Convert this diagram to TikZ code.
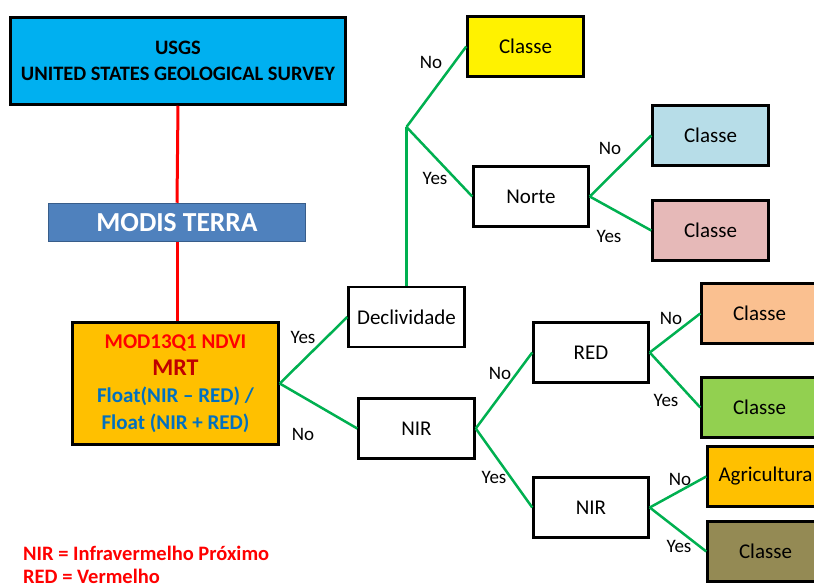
\documentclass[tikz,border=0pt]{standalone}
\usepackage{fontspec}
\setmainfont{Carlito}
\definecolor{usgsblue}{HTML}{00B0F0}
\definecolor{modisfill}{HTML}{4F81BD}
\definecolor{modisdraw}{HTML}{385D8A}
\definecolor{gold}{HTML}{FFC000}
\definecolor{treegreen}{HTML}{00B050}
\definecolor{linkred}{HTML}{FF0000}
\definecolor{darkred}{HTML}{C00000}
\definecolor{textblue}{HTML}{0070C0}
\definecolor{lightblue}{HTML}{B7DDE8}
\definecolor{pink}{HTML}{E6B9B8}
\definecolor{peach}{HTML}{FAC090}
\definecolor{lgreen}{HTML}{92D050}
\definecolor{olive}{HTML}{948A54}
\begin{document}
\begin{tikzpicture}[x=1pt,y=-1pt,
  box/.style={draw=black, line width=2.5pt, minimum width=116pt, minimum height=60pt, inner sep=0pt, font=\fontsize{21}{25}\selectfont},
  gl/.style={draw=treegreen, line width=2.5pt},
  rl/.style={draw=linkred, line width=3pt},
  lab/.style={font=\fontsize{19}{21}\selectfont, inner sep=0pt},
  legend/.style={anchor=base west, inner sep=0pt, text=linkred, font=\fontsize{20.5}{24}\selectfont\bfseries}]
\useasboundingbox (0,0) rectangle (814,588);
\clip (0,0) rectangle (814,588);
% top boxes
\node[box, fill=usgsblue, minimum width=335pt, minimum height=87pt, align=center, font=\fontsize{20.5}{26}\selectfont\bfseries] (usgs) at (178,61) {USGS\\UNITED STATES GEOLOGICAL SURVEY};
\node[draw=modisdraw, line width=1.5pt, fill=modisfill, minimum width=257pt, minimum height=38pt, inner sep=0pt, text=white, font=\fontsize{27.5}{30}\selectfont\bfseries] (modis) at (177,222.5) {MODIS TERRA};
\node[box, fill=gold, minimum width=206pt, minimum height=122pt, align=center, font=\fontsize{21}{27}\selectfont\bfseries] (mod) at (175.5,383.5)
  {\textcolor{linkred}{MOD13Q1 NDVI}\\{\fontsize{24}{27}\selectfont\textcolor{darkred}{MRT}}\\\textcolor{textblue}{Float(NIR -- RED) /}\\\textcolor{textblue}{Float (NIR + RED)}};
\draw[rl] (usgs.south) -- (modis.north);
\draw[rl] (modis.south) -- (modis.south |- mod.north);
% decision boxes
\node[box] (decl) at (406.5,317) {Declividade};
\node[box] (nir1) at (416.5,428.5) {NIR};
\node[box, fill=yellow] (cy) at (525.5,46.5) {Classe};
\node[box, minimum width=115pt] (norte) at (531,196.5) {Norte};
\node[box, fill=lightblue] (cb) at (710.5,135.5) {Classe};
\node[box, fill=pink] (cp) at (710.5,230.5) {Classe};
\node[box, minimum width=115pt] (red) at (591,352.5) {RED};
\node[box, fill=peach] (co) at (759.5,313.5) {Classe};
\node[box, fill=lgreen] (cg) at (759.5,407.5) {Classe};
\node[box, minimum width=115pt] (nir2) at (591,507.5) {NIR};
\node[box, fill=gold] (agr) at (765.5,476.5) {Agricultura};
\node[box, fill=olive] (col) at (765.5,551.5) {Classe};
\coordinate (j) at (406.5,127);
% connectors
\draw[gl] (mod.east) -- (decl.west);
\draw[gl] (mod.east) -- (nir1.west);
\draw[gl] (decl.north) -- (j);
\draw[gl] (j) -- (cy.west);
\draw[gl] (j) -- (norte.west);
\draw[gl] (norte.east) -- (cb.west);
\draw[gl] (norte.east) -- (cp.west);
\draw[gl] (nir1.east) -- (red.west);
\draw[gl] (nir1.east) -- (nir2.west);
\draw[gl] (red.east) -- (co.west);
\draw[gl] (red.east) -- (cg.west);
\draw[gl] (nir2.east) -- (agr.west);
\draw[gl] (nir2.east) -- (col.west);
% labels
\node[lab] (l1) at (431,62) {No};
\node[lab] (l2) at (435,178) {Yes};
\node[lab] (l3) at (610,148) {No};
\node[lab] (l4) at (609,236) {Yes};
\node[lab] (l5) at (303,337) {Yes};
\node[lab] (l6) at (303,434) {No};
\node[lab] (l7) at (500,373) {No};
\node[lab] (l8) at (494,477) {Yes};
\node[lab] (l9) at (671,318) {No};
\node[lab] (l10) at (666,400) {Yes};
\node[lab] (l11) at (680,479) {No};
\node[lab] (l12) at (679,546) {Yes};
% legend
\node[legend] (leg1) at (23,560) {NIR = Infravermelho Próximo};
\node[legend] (leg2) at (23,583) {RED = Vermelho};
\end{tikzpicture}
\end{document}
